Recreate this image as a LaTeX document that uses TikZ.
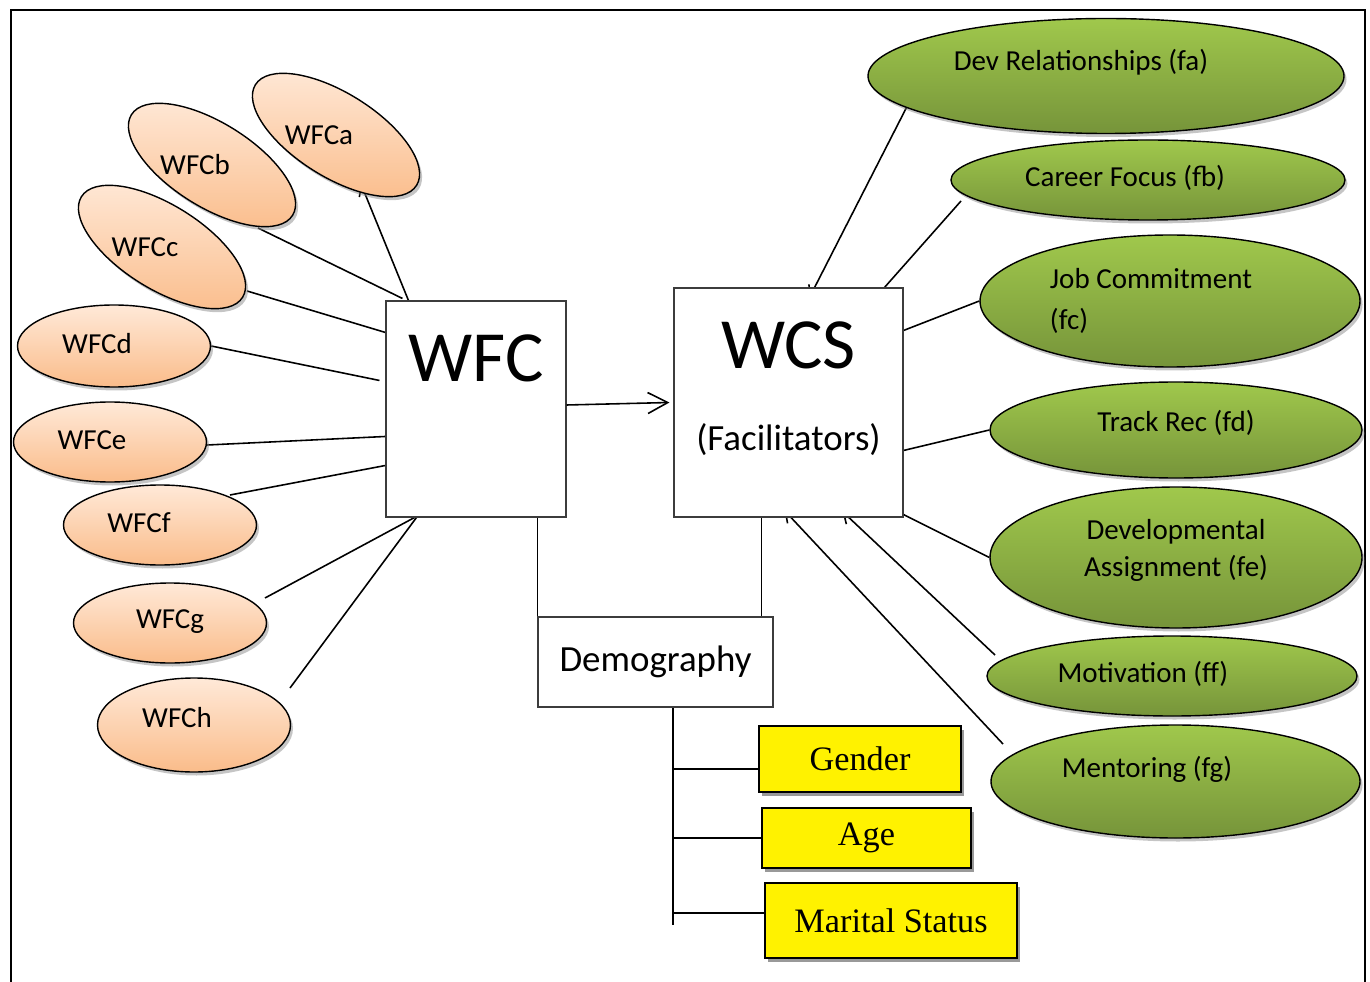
\documentclass[tikz,border=0pt]{standalone}
\usepackage{fontspec}
\setmainfont{Carlito}
\newfontfamily\timesfont{Liberation Serif}
\usetikzlibrary{shapes.geometric, arrows.meta, positioning, calc, backgrounds, shadows}
\definecolor{peachtop}{RGB}{255,233,216}
\definecolor{peachbot}{RGB}{250,188,138}
\definecolor{leaftop}{RGB}{160,200,76}
\definecolor{leafbot}{RGB}{118,148,58}
\definecolor{boxline}{RGB}{60,60,60}

\tikzset{
  conn/.style={line width=0.9pt},
  tipin/.style={-{Straight Barb[length=0.2cm, width=0.26cm]}},
  lbl/.style={font=\fontsize{16.5}{20}\selectfont, inner sep=0pt},
  wfcitem/.style={ellipse, draw, line width=0.8pt, top color=peachtop, bottom color=peachbot,
    drop shadow={shadow xshift=0.05cm, shadow yshift=-0.07cm, fill=black!45},
    minimum width=3.86cm, minimum height=1.6cm, inner sep=0pt},
  wcsitem/.style={ellipse, draw, line width=0.8pt, top color=leaftop, bottom color=leafbot,
    drop shadow={shadow xshift=0.05cm, shadow yshift=-0.07cm, fill=black!45},
    minimum width=7.44cm, minimum height=1.6cm, inner sep=0pt},
  mainbox/.style={rectangle, draw=boxline, line width=0.6pt, fill=white, inner sep=0pt},
  factor/.style={rectangle, draw, line width=0.9pt, fill=yellow,
    drop shadow={shadow xshift=0.06cm, shadow yshift=-0.07cm, fill=black!40, opacity=1},
    font=\timesfont\fontsize{19.5}{22}\selectfont, inner sep=0pt}
}

\begin{document}
\begin{tikzpicture}
  \useasboundingbox (0,0) rectangle (27.4,-19.64);

  % WFC side
  \node[wfcitem, rotate=-32, minimum width=3.8cm, minimum height=1.68cm, label={[lbl, xshift=-0.34cm]center:WFCa}] (wfca) at (6.72,-2.70) {};
  \node[wfcitem, rotate=-32, minimum width=3.8cm, minimum height=1.68cm, label={[lbl, xshift=-0.34cm]center:WFCb}] (wfcb) at (4.24,-3.30) {};
  \node[wfcitem, rotate=-32, minimum width=3.8cm, minimum height=1.68cm, label={[lbl, xshift=-0.34cm]center:WFCc}] (wfcc) at (3.24,-4.94) {};
  \node[wfcitem, minimum height=1.64cm, label={[lbl, xshift=-0.34cm, yshift=0.04cm]center:WFCd}] (wfcd) at (2.28,-6.92) {};
  \node[wfcitem, label={[lbl, xshift=-0.36cm, yshift=0.04cm]center:WFCe}] (wfce) at (2.20,-8.84) {};
  \node[wfcitem, label={[lbl, xshift=-0.42cm, yshift=0.04cm]center:WFCf}] (wfcf) at (3.20,-10.50) {};
  \node[wfcitem, label={[lbl, yshift=0.02cm]center:WFCg}] (wfcg) at (3.40,-12.46) {};
  \node[wfcitem, minimum height=1.88cm, label={[lbl, xshift=-0.34cm, yshift=0.14cm]center:WFCh}] (wfch) at (3.88,-14.50) {};

  \node[mainbox, minimum width=3.6cm, minimum height=4.32cm, label={[font=\fontsize{41}{44}\selectfont, yshift=1.02cm]center:WFC}] (wfc) at (9.52,-8.18) {};

  % WCS side
  \node[mainbox, minimum width=4.58cm, minimum height=4.58cm, label={[font=\fontsize{41}{44}\selectfont, yshift=1.15cm]center:WCS}, label={[font=\fontsize{21}{24}\selectfont, yshift=-0.75cm]center:(Facilitators)}] (wcs) at (15.77,-8.05) {};

  \node[wcsitem, minimum width=9.52cm, minimum height=2.3cm, label={[lbl, xshift=-0.5cm, yshift=0.28cm]center:Dev Relationships (fa)}] (fa) at (22.12,-1.52) {};
  \node[wcsitem, minimum width=7.88cm, label={[lbl, xshift=-0.46cm, yshift=0.04cm]center:Career Focus (fb)}] (fb) at (22.96,-3.60) {};
  \node[wcsitem, minimum width=7.6cm, minimum height=2.64cm, label={[lbl, font=\fontsize{16.5}{23.5}\selectfont, align=left, xshift=-0.38cm]center:Job Commitment\\(fc)}] (fc) at (23.40,-6.02) {};
  \node[wcsitem, minimum height=1.92cm, label={[lbl, yshift=0.14cm]center:Track Rec (fd)}] (fd) at (23.52,-8.60) {};
  \node[wcsitem, minimum height=2.82cm, label={[lbl, font=\fontsize{16.5}{21.5}\selectfont, align=center, yshift=0.14cm]center:Developmental\\Assignment (fe)}] (fe) at (23.52,-11.15) {};
  \node[wcsitem, minimum width=7.4cm, label={[lbl, xshift=-0.58cm, yshift=0.04cm]center:Motivation (ff)}] (ff) at (23.44,-13.52) {};
  \node[wcsitem, minimum width=7.38cm, minimum height=2.26cm, label={[lbl, xshift=-0.57cm, yshift=0.25cm]center:Mentoring (fg)}] (fg) at (23.51,-15.63) {};

  % demography
  \node[mainbox, minimum width=4.7cm, minimum height=1.8cm, font=\fontsize{21}{24}\selectfont] (demo) at (13.11,-13.24) {Demography};
  \node[factor, minimum width=4.04cm, minimum height=1.32cm] (gender) at (17.20,-15.18) {Gender};
  \node[factor, minimum width=4.18cm, minimum height=1.2cm] (age) at (17.33,-16.76) {Age};
  \node[factor, minimum width=5.04cm, minimum height=1.5cm] (marital) at (17.82,-18.41) {Marital Status};

  \coordinate (trunktop) at ([xshift=0.35cm]demo.south);
  \coordinate (trunkend) at ([yshift=-4.34cm]trunktop);
  \coordinate (gy) at ([yshift=-0.2cm]gender.west);
  \coordinate (my) at ([yshift=0.15cm]marital.west);
  \coordinate (dlink) at ([xshift=-0.24cm, yshift=-0.38cm]demo.north east);

  \begin{scope}[on background layer]
    \draw[line width=1pt] (0.22,-0.2) rectangle (27.3,-20.3);
    % spokes into WFC
    \draw[conn, tipin] ([xshift=0.46cm]wfc.north west) -- ($(wfca)+(0.50,-0.98)$);
    \draw[conn] ($(wfcb)+(0.92,-1.26)$) -- ([xshift=0.34cm, yshift=0.04cm]wfc.north west);
    \draw[conn] ($(wfcc)+(1.70,-0.88)$) -- ([yshift=-0.64cm]wfc.north west);
    \draw[conn] (wfcd.east) -- ([xshift=-0.12cm, yshift=-1.6cm]wfc.north west);
    \draw[conn] ([yshift=-0.06cm]wfce.east) -- ([yshift=-2.72cm]wfc.north west);
    \draw[conn] ($(wfcf)+(1.40,0.60)$) -- ([yshift=-3.30cm]wfc.north west);
    \draw[conn] ($(wfcg)+(1.90,0.50)$) -- ([xshift=0.58cm]wfc.south west);
    \draw[conn] ($(wfch)+(1.92,0.74)$) -- ([xshift=0.62cm]wfc.south west);
    % spokes into WCS
    \draw[conn, tipin] ($(fa)+(-3.99,-0.63)$) -- ([xshift=2.72cm, yshift=-0.2cm]wcs.north west);
    \draw[conn] ($(fb)+(-3.74,-0.42)$) -- ([xshift=4.22cm]wcs.north west);
    \draw[conn] (fc.west) -- ([yshift=-0.86cm]wcs.north east);
    \draw[conn] (fd.west) -- ([yshift=-3.26cm]wcs.north east);
    \draw[conn] (fe.west) -- ([yshift=0.06cm]wcs.south east);
    \draw[conn, tipin] ($(ff)+(-3.54,0.42)$) -- ([xshift=3.38cm, yshift=0.12cm]wcs.south west);
    \draw[conn, tipin] ($(fg)+(-3.45,0.75)$) -- ([xshift=2.22cm, yshift=0.14cm]wcs.south west);
    % demography links
    \draw[conn] (demo.north west |- wfc.south) -- ([yshift=-0.38cm]demo.north west);
    \draw[conn] (dlink |- wcs.south) -- (dlink);
    \draw[conn] (trunktop) -- (trunkend);
    \draw[conn] (gy -| trunktop) -- (gy);
    \draw[conn] (age.west -| trunktop) -- (age.west);
    \draw[conn] (my -| trunktop) -- (my);
  \end{scope}

  \draw[conn, -{Straight Barb[length=0.4cm, width=0.42cm]}] ([yshift=0.08cm]wfc.east) -- ([xshift=-0.08cm]wcs.west);
\end{tikzpicture}
\end{document}
